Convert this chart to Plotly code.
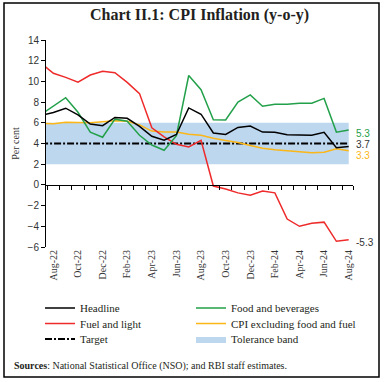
import plotly.graph_objects as go

# Months: Jul-22 (partially clipped at left edge) through Aug-24
months = ["Jul-22", "Aug-22", "Sep-22", "Oct-22", "Nov-22", "Dec-22", "Jan-23", "Feb-23", "Mar-23",
          "Apr-23", "May-23", "Jun-23", "Jul-23", "Aug-23", "Sep-23", "Oct-23", "Nov-23", "Dec-23",
          "Jan-24", "Feb-24", "Mar-24", "Apr-24", "May-24", "Jun-24", "Jul-24", "Aug-24"]

headline = [6.71, 7.00, 7.41, 6.77, 5.88, 5.72, 6.52, 6.44, 5.66, 4.70, 4.31, 4.87, 7.44, 6.83,
            5.02, 4.87, 5.55, 5.69, 5.10, 5.09, 4.85, 4.83, 4.80, 5.08, 3.60, 3.70]
food_bev = [6.80, 7.60, 8.42, 7.02, 5.10, 4.60, 6.35, 6.15, 4.80, 3.85, 3.35, 4.75, 10.57, 9.20,
            6.30, 6.28, 8.00, 8.70, 7.60, 7.80, 7.80, 7.90, 7.90, 8.36, 5.10, 5.30]
fuel_light = [11.76, 10.78, 10.39, 9.93, 10.62, 10.97, 10.84, 9.90, 8.82, 5.52, 4.64, 3.92, 3.67,
              4.31, -0.11, -0.39, -0.77, -0.99, -0.60, -0.77, -3.30, -4.00, -3.70, -3.60, -5.45, -5.30]
core = [5.95, 5.90, 6.05, 6.00, 6.00, 6.10, 6.20, 6.15, 5.80, 5.20, 5.10, 5.10, 4.90, 4.80,
        4.50, 4.30, 4.10, 3.80, 3.55, 3.40, 3.30, 3.20, 3.10, 3.15, 3.50, 3.30]
target = [4.0] * len(months)
band_low = [2.0] * len(months)
band_high = [6.0] * len(months)

# x positions: Aug-22 = 0
xs = list(range(-1, len(months) - 1))
label_idx = list(range(1, len(months), 2))
tick_vals = [xs[i] for i in label_idx]
tick_text = [months[i] for i in label_idx]

GREEN = "#23a04a"
RED = "#ee2a2a"
ORANGE = "#fbb617"
BAND = "#bdd7ee"

fig = go.Figure()

fig.add_trace(go.Scatter(x=xs, y=band_low, mode="lines", line=dict(width=0, color=BAND),
                         showlegend=False, hoverinfo="skip"))
fig.add_trace(go.Scatter(x=xs, y=band_high, mode="lines", line=dict(width=0, color=BAND),
                         fill="tonexty", fillcolor=BAND, name="Tolerance band", legend="legend6"))
fig.add_trace(go.Scatter(x=xs, y=target, mode="lines", name="Target", legend="legend5",
                         line=dict(color="black", width=2, dash="7px,2px,2px,2px")))
fig.add_trace(go.Scatter(x=xs, y=core, mode="lines", name="CPI excluding food and fuel",
                         legend="legend4", line=dict(color=ORANGE, width=1.5)))
fig.add_trace(go.Scatter(x=xs, y=fuel_light, mode="lines", name="Fuel and light",
                         legend="legend3", line=dict(color=RED, width=1.5)))
fig.add_trace(go.Scatter(x=xs, y=food_bev, mode="lines", name="Food and beverages",
                         legend="legend2", line=dict(color=GREEN, width=1.5)))
fig.add_trace(go.Scatter(x=xs, y=headline, mode="lines", name="Headline",
                         legend="legend", line=dict(color="black", width=1.5)))
# invisible trace to carry the zero-crossing axis
fig.add_trace(go.Scatter(x=[xs[1]], y=[0], xaxis="x2", mode="markers", marker=dict(opacity=0),
                         showlegend=False, hoverinfo="skip"))

SERIF = "Liberation Serif"
SANS = "Liberation Sans"

leg_common = dict(orientation="h", xanchor="left", yanchor="middle",
                  font=dict(family=SERIF, size=11, color="#231f20"), bgcolor="rgba(0,0,0,0)",
                  itemwidth=30)
LX, RX = -0.0195, 0.4723
R1, R2, R3 = -0.2947, -0.3696, -0.4444

fig.update_layout(
    width=384, height=382,
    margin=dict(l=46, r=31, t=40, b=135),
    paper_bgcolor="white", plot_bgcolor="white",
    showlegend=True,
    title=dict(text="<b>Chart II.1: CPI Inflation (y-o-y)</b>", x=0.5, xref="paper",
               xanchor="center", y=0.963, yref="container", yanchor="middle",
               font=dict(family=SERIF, size=16, color="#231f20")),
    xaxis=dict(range=[-0.6, 24.35], tickmode="array", tickvals=tick_vals, ticktext=tick_text,
               tickangle=-90, ticks="", showline=False, showgrid=False, zeroline=False,
               tickfont=dict(family=SERIF, size=10, color="#333")),
    xaxis2=dict(overlaying="x", matches="x", anchor="free", position=0.3, side="bottom",
                tickmode="array", tickvals=[v + 0.5 for v in xs[:-1]] + [24.35],
                ticks="outside", ticklen=4, tickcolor="black", tickwidth=1,
                showline=True, linecolor="black", linewidth=1,
                showticklabels=False, showgrid=False, zeroline=False),
    yaxis=dict(range=[-6, 14], dtick=2, ticks="outside", ticklen=4, tickcolor="black",
               showline=True, linecolor="black", linewidth=1, showgrid=False, zeroline=False,
               tickfont=dict(family=SANS, size=10, color="#333"),
               title=dict(text="Per cent", font=dict(family=SERIF, size=10, color="#333"), standoff=6)),
    legend=dict(leg_common, x=LX, y=R1),
    legend2=dict(leg_common, x=RX, y=R1),
    legend3=dict(leg_common, x=LX, y=R2),
    legend4=dict(leg_common, x=RX, y=R2),
    legend5=dict(leg_common, x=LX, y=R3),
    legend6=dict(leg_common, x=RX, y=R3),
)

end_labels = [("5.3", food_bev[-1], GREEN, -3), ("3.7", headline[-1], "#333", 2),
              ("3.3", core[-1], ORANGE, -5), ("-5.3", fuel_light[-1], "#333", -3)]
for txt, val, col, ys in end_labels:
    fig.add_annotation(x=xs[-1], y=val, text=txt, showarrow=False, xanchor="left", yanchor="middle",
                       xshift=5, yshift=ys, font=dict(family=SANS, size=10, color=col))

fig.add_annotation(xref="paper", yref="paper", x=-0.11, y=-0.575, xanchor="left", yanchor="middle",
                   text="<b>Sources</b>: National Statistical Office (NSO); and RBI staff estimates.",
                   showarrow=False, font=dict(family=SERIF, size=10, color="#231f20"))

# outer frame
fig.add_shape(type="rect", xref="paper", yref="paper", x0=-0.1368, x1=1.0847, y0=-0.628, y1=1.1787,
              line=dict(color="black", width=1.5), fillcolor="rgba(0,0,0,0)")

fig.write_html("out.html", config={"displayModeBar": False},
               post_script="document.body.style.margin='0';document.body.style.overflow='hidden';")
